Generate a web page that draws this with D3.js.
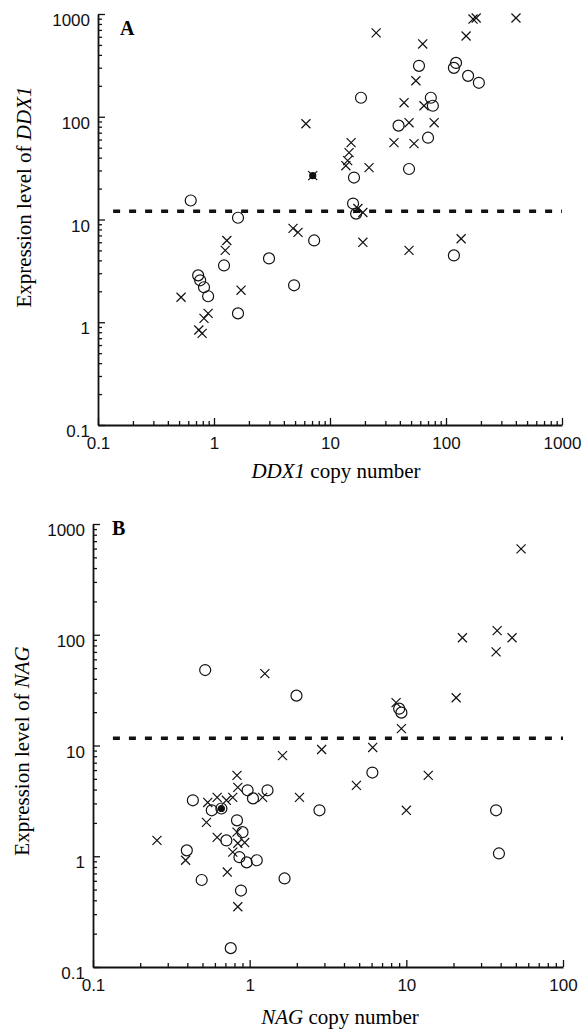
<!DOCTYPE html>
<html>
<head>
<meta charset="utf-8">
<script src="https://cdn.jsdelivr.net/npm/d3@7"></script>
<style>
body { margin: 0; background: white; }
.tick-label { font-family: "Liberation Sans", Arial, sans-serif; font-size: 17px; }
.axis-title { font-family: "Liberation Serif", "Times New Roman", serif; font-size: 21px; }
.panel-letter { font-family: "Liberation Serif", "Times New Roman", serif; font-size: 20px; font-weight: bold; }
</style>
</head>
<body>
<svg id="chart" width="587" height="1033"></svg>
<script>

// Panel A: DDX1 (copy number vs expression), two sample groups
const ddx1CircleCopy = [0.63, 1.61, 1.22, 2.98, 4.9, 0.73, 0.76, 0.82, 1.61, 18.5, 58.5, 122, 117, 155, 192,
    74, 77, 39, 70, 16.1, 48, 15.8, 16.8, 7.3, 117, 0.89];
const ddx1CircleExpr = [15.3, 10.4, 3.57, 4.18, 2.29, 2.86, 2.56, 2.19, 1.22, 153, 313, 334, 299, 250, 214,
    153, 128, 82, 62.5, 25.6, 31, 14.3, 11.4, 6.25, 4.47, 1.79];
const ddx1CrossCopy = [4.8, 5.3, 1.29, 1.25, 0.52, 1.71, 0.89, 0.82, 0.74, 0.79, 25, 171, 182, 149, 401,
    63, 55, 43.5, 64.6, 6.2, 79, 48, 35.6, 53, 15.2, 14.6, 14.2, 13.7, 21.7, 7.1, 17.4, 19.2, 19.2, 135, 48];
const ddx1CrossExpr = [8.2, 7.5, 6.25, 5.0, 1.75, 2.05, 1.22, 1.09, 0.84, 0.78, 655, 893, 914, 611, 914,
    511, 224, 137, 128, 85.5, 87.5, 87.5, 56, 54.7, 56, 44.7, 37.4, 33.4, 32, 26.7, 12.8, 11.7, 6.0, 6.5, 5.0];
// overlapping marks that print as solid blobs
const ddx1SolidCopy = [7.1];
const ddx1SolidExpr = [26.7];
const ddx1ThresholdRange = [0.135, 1000];
const ddx1ThresholdLevel = 12;

// Panel B: NAG
const nagCircleCopy = [0.52, 1.99, 9.0, 9.3, 6.07, 2.79, 37.4, 39, 1.67, 0.434, 0.397, 0.494, 0.573, 0.66,
    0.97, 1.05, 1.30, 0.83, 0.71, 0.90, 0.86, 0.957, 1.11, 0.88, 0.757];
const nagCircleExpr = [48, 28.2, 21.5, 19.8, 5.7, 2.6, 2.6, 1.06, 0.63, 3.2, 1.13, 0.61, 2.6, 2.7,
    3.94, 3.33, 3.94, 2.11, 1.39, 1.65, 0.98, 0.88, 0.92, 0.49, 0.148];
const nagCrossCopy = [1.25, 1.62, 54, 22.8, 38, 47.3, 37.4, 20.8, 8.6, 9.3, 2.88, 6.1, 2.08, 4.8, 13.8, 10,
    0.256, 0.39, 0.53, 0.54, 0.62, 0.71, 0.78, 0.83, 0.84, 1.21, 0.62, 0.83, 0.84, 0.93, 0.78, 0.72, 0.84];
const nagCrossExpr = [44.6, 8.1, 596, 94, 109, 94, 70, 27, 24.4, 14.2, 9.2, 9.6, 3.4, 4.36, 5.37, 2.6,
    1.39, 0.92, 2.02, 3.06, 3.4, 3.2, 3.4, 5.37, 4.19, 3.4, 1.48, 1.65, 1.31, 1.33, 1.09, 0.72, 0.35];
const nagSolidCopy = [0.66];
const nagSolidExpr = [2.7];
const nagThresholdRange = [0.134, 100];
const nagThresholdLevel = 11.6;

// Ticks
const exprTicks = [0.1, 1, 10, 100, 1000];
const exprTickLabels = ["0.1", "1", "10", "100", "1000"];
const ddx1CopyTicks = [0.1, 1, 10, 100, 1000];
const ddx1CopyTickLabels = ["0.1", "1", "10", "100", "1000"];
const nagCopyTicks = [0.1, 1, 10, 100];
const nagCopyTickLabels = ["0.1", "1", "10", "100"];

const svg = d3.select("#chart");
svg.append("rect").attr("width", 587).attr("height", 1033).attr("fill", "white");

function zip(xs, ys) {
    return xs.map((v, i) => ({ x: v, y: ys[i] }));
}

function minor_ticks(domain) {
    const res = [];
    for (let dec = domain[0]; dec < domain[1]; dec *= 10) {
        for (let k = 2; k <= 9; k++) res.push(dec * k);
    }
    return res;
}

function draw_panel(p) {
    const g = svg.append("g");
    const x = d3.scaleLog().domain([p.xTicks[0], p.xTicks.at(-1)]).range([p.left, p.right]);
    const y = d3.scaleLog().domain([exprTicks[0], exprTicks.at(-1)]).range([p.bottom, p.top]);

    ////////  Axes /////////////
    const xMinor = g.append("g").attr("transform", "translate(0," + p.bottom + ")")
        .call(d3.axisBottom(x).tickValues(minor_ticks(x.domain())).tickSize(-4).tickFormat(""));
    xMinor.select(".domain").remove();
    const yMinor = g.append("g").attr("transform", "translate(" + p.left + ",0)")
        .call(d3.axisLeft(y).tickValues(minor_ticks(y.domain())).tickSize(-4).tickFormat(""));
    yMinor.select(".domain").remove();

    g.append("g").attr("transform", "translate(0," + p.bottom + ")")
        .call(d3.axisBottom(x).tickValues(p.xTicks).tickSize(-7).tickSizeOuter(0).tickPadding(12)
            .tickFormat((d, i) => p.xTickLabels[i]));
    const yAxis = g.append("g").attr("transform", "translate(" + p.left + ",0)")
        .call(d3.axisLeft(y).tickValues(exprTicks).tickSize(-7).tickSizeOuter(0).tickPadding(8)
            .tickFormat((d, i) => exprTickLabels[i]));
    yAxis.selectAll("text").attr("dy", "0.68em");

    g.selectAll(".domain").attr("stroke", "#111").attr("stroke-width", 1.8);
    g.selectAll(".tick line").attr("stroke", "#111").attr("stroke-width", 1.3);
    g.selectAll(".tick text").attr("class", "tick-label").attr("fill", "#111")
        .attr("font-family", null).attr("font-size", null);

    //////// Threshold ///////////////
    g.append("line")
        .attr("x1", x(p.thresholdRange[0])).attr("x2", x(p.thresholdRange[1]))
        .attr("y1", y(p.thresholdLevel)).attr("y2", y(p.thresholdLevel))
        .attr("stroke", "#111").attr("stroke-width", 3.5).attr("stroke-dasharray", "7,9");

    //////// Points ///////////////
    const pts = g.append("g").attr("fill", "none").attr("stroke", "#111").attr("stroke-width", 1.2);
    pts.selectAll("circle.open")
        .data(zip(p.circleCopy, p.circleExpr))
        .join("circle")
        .attr("class", "open")
        .attr("cx", d => x(d.x))
        .attr("cy", d => y(d.y))
        .attr("r", 5.5);
    pts.selectAll("path")
        .data(zip(p.crossCopy, p.crossExpr))
        .join("path")
        .attr("d", d3.symbol().type(d3.symbolTimes).size(55))
        .attr("transform", d => "translate(" + x(d.x) + "," + y(d.y) + ")");
    pts.selectAll("circle.solid")
        .data(zip(p.solidCopy, p.solidExpr))
        .join("circle")
        .attr("class", "solid")
        .attr("cx", d => x(d.x))
        .attr("cy", d => y(d.y))
        .attr("r", 3)
        .attr("fill", "#111");

    //////// Labels ///////////////
    g.append("text").attr("class", "panel-letter")
        .attr("x", p.letterX).attr("y", p.letterY).text(p.letter);

    const yt = g.append("text").attr("class", "axis-title")
        .attr("text-anchor", "middle")
        .attr("transform", "translate(" + p.yTitleX + "," + p.yTitleY + ")rotate(-90)");
    yt.append("tspan").text("Expression level of ");
    yt.append("tspan").attr("font-style", "italic").text(p.gene);

    const xt = g.append("text").attr("class", "axis-title")
        .attr("text-anchor", "middle")
        .attr("x", p.xTitleX).attr("y", p.xTitleY);
    xt.append("tspan").attr("font-style", "italic").text(p.gene);
    xt.append("tspan").text(" copy number");
}

draw_panel({
    gene: "DDX1", letter: "A",
    left: 98, right: 562, top: 14, bottom: 425,
    xTicks: ddx1CopyTicks, xTickLabels: ddx1CopyTickLabels,
    circleCopy: ddx1CircleCopy, circleExpr: ddx1CircleExpr,
    crossCopy: ddx1CrossCopy, crossExpr: ddx1CrossExpr,
    solidCopy: ddx1SolidCopy, solidExpr: ddx1SolidExpr,
    thresholdRange: ddx1ThresholdRange, thresholdLevel: ddx1ThresholdLevel,
    letterX: 120, letterY: 35,
    yTitleX: 31, yTitleY: 197,
    xTitleX: 336, xTitleY: 478
});

draw_panel({
    gene: "NAG", letter: "B",
    left: 93, right: 563, top: 524, bottom: 967,
    xTicks: nagCopyTicks, xTickLabels: nagCopyTickLabels,
    circleCopy: nagCircleCopy, circleExpr: nagCircleExpr,
    crossCopy: nagCrossCopy, crossExpr: nagCrossExpr,
    solidCopy: nagSolidCopy, solidExpr: nagSolidExpr,
    thresholdRange: nagThresholdRange, thresholdLevel: nagThresholdLevel,
    letterX: 112, letterY: 535,
    yTitleX: 29, yTitleY: 751,
    xTitleX: 340, xTitleY: 1024
});
</script>
</body>
</html>
